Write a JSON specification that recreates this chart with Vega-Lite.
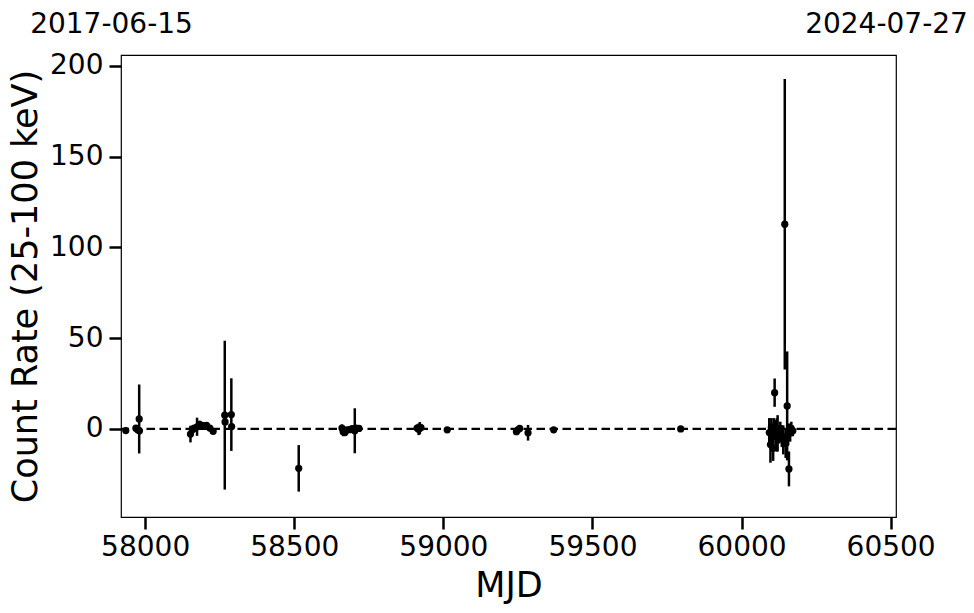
{
  "$schema": "https://vega.github.io/schema/vega-lite/v6.json",
  "width": 775,
  "height": 462,
  "autosize": {"type": "none"},
  "padding": {"left": 121, "top": 55, "right": 78, "bottom": 96},
  "background": "white",
  "config": {
    "font": "DejaVu Sans",
    "view": {"stroke": "black", "strokeWidth": 1.2},
    "axis": {"labelColor": "black", "titleColor": "black", "tickColor": "black", "grid": false, "domain": false, "labelFont": "DejaVu Sans", "titleFont": "DejaVu Sans"}
  },
  "data": {
    "values": [
      {"mjd": 57935, "rate": -0.9, "err": 0.8},
      {"mjd": 57969, "rate": 0.4, "err": 1.2},
      {"mjd": 57975, "rate": -0.5, "err": 1.5},
      {"mjd": 57980, "rate": 5.5, "err": 19},
      {"mjd": 57981, "rate": -1.0, "err": 2},
      {"mjd": 58152, "rate": -2.8, "err": 4.6},
      {"mjd": 58158, "rate": -0.5, "err": 2},
      {"mjd": 58163, "rate": 0.3, "err": 2},
      {"mjd": 58174, "rate": 1.2, "err": 5},
      {"mjd": 58183, "rate": 2.5, "err": 2},
      {"mjd": 58195, "rate": 1.8, "err": 1.5},
      {"mjd": 58206, "rate": 2.0, "err": 1.5},
      {"mjd": 58217, "rate": 0.5, "err": 1.5},
      {"mjd": 58228, "rate": -1.3, "err": 1.5},
      {"mjd": 58267, "rate": 7.6, "err": 41},
      {"mjd": 58268, "rate": 3.9, "err": 2},
      {"mjd": 58289, "rate": 7.9, "err": 20},
      {"mjd": 58290, "rate": 1.3, "err": 1.5},
      {"mjd": 58515, "rate": -21.7, "err": 12.8},
      {"mjd": 58660, "rate": 0.5, "err": 2},
      {"mjd": 58664, "rate": -1.5, "err": 2.5},
      {"mjd": 58670, "rate": -2.0, "err": 1.5},
      {"mjd": 58677, "rate": -0.5, "err": 1.5},
      {"mjd": 58686, "rate": -0.4, "err": 1.5},
      {"mjd": 58694, "rate": 0.2, "err": 1.5},
      {"mjd": 58703, "rate": -1.0, "err": 12.4},
      {"mjd": 58707, "rate": 0.5, "err": 1.5},
      {"mjd": 58717, "rate": 0.3, "err": 1.5},
      {"mjd": 58912, "rate": 0.5, "err": 2},
      {"mjd": 58917, "rate": -0.2, "err": 3.2},
      {"mjd": 58921, "rate": 0.4, "err": 3.4},
      {"mjd": 58925, "rate": 0.8, "err": 2},
      {"mjd": 59013, "rate": -0.5, "err": 1},
      {"mjd": 59245, "rate": -1.5, "err": 1.5},
      {"mjd": 59250, "rate": -0.5, "err": 1.5},
      {"mjd": 59256, "rate": 0.3, "err": 1.5},
      {"mjd": 59284, "rate": -2.1, "err": 4.3},
      {"mjd": 59370, "rate": -0.5, "err": 1},
      {"mjd": 59796, "rate": 0.0, "err": 0.8},
      {"mjd": 60093, "rate": -2, "err": 8},
      {"mjd": 60097, "rate": -8.6, "err": 10},
      {"mjd": 60100, "rate": 1, "err": 5},
      {"mjd": 60103, "rate": -3, "err": 6},
      {"mjd": 60106, "rate": -10.6, "err": 7},
      {"mjd": 60108, "rate": 0, "err": 6},
      {"mjd": 60111, "rate": 20, "err": 7.8},
      {"mjd": 60114, "rate": -2, "err": 7},
      {"mjd": 60118, "rate": -3.3, "err": 9.2},
      {"mjd": 60121, "rate": -2.4, "err": 10},
      {"mjd": 60126, "rate": -3, "err": 5},
      {"mjd": 60130, "rate": 0, "err": 4},
      {"mjd": 60135, "rate": -4, "err": 6},
      {"mjd": 60140, "rate": -6, "err": 8},
      {"mjd": 60145, "rate": 112.8, "err": 80},
      {"mjd": 60148, "rate": -8, "err": 8},
      {"mjd": 60153, "rate": 12.7, "err": 30},
      {"mjd": 60156, "rate": -3, "err": 6},
      {"mjd": 60159, "rate": -22, "err": 9.6},
      {"mjd": 60163, "rate": -2, "err": 5},
      {"mjd": 60167, "rate": 0, "err": 4},
      {"mjd": 60172, "rate": -1, "err": 3}
    ]
  },
  "layer": [
    {
      "data": {"values": [{"ref": 0}]},
      "mark": {"type": "rule", "color": "black", "strokeWidth": 2.2, "strokeDash": [8.5, 4.5]},
      "encoding": {"y": {"field": "ref", "type": "quantitative", "title": "Count Rate (25-100 keV)"}}
    },
    {
      "mark": {"type": "errorbar", "ticks": false, "color": "black", "rule": {"strokeWidth": 2.5, "color": "black"}},
      "encoding": {
        "x": {
          "field": "mjd", "type": "quantitative",
          "scale": {"domain": [57919, 60518], "nice": false, "zero": false},
          "axis": {"orient": "bottom", "values": [58000, 58500, 59000, 59500, 60000, 60500], "format": "d", "tickSize": 12, "tickWidth": 2.5, "labelFontSize": 28, "labelPadding": 4, "labelFlush": false, "labelOverlap": false, "title": "MJD", "titleFontSize": 35, "titleFontWeight": "normal", "titlePadding": 7}
        },
        "y": {
          "field": "rate", "type": "quantitative",
          "scale": {"domain": [-48.5, 206], "nice": false, "zero": false},
          "title": "Count Rate (25-100 keV)",
          "axis": {"values": [0, 50, 100, 150, 200], "tickSize": 12, "tickWidth": 2.5, "labelFontSize": 28, "labelPadding": 6, "title": "Count Rate (25-100 keV)", "titleFontSize": 35, "titleFontWeight": "normal", "titlePadding": 6}
        },
        "yError": {"field": "err"}
      }
    },
    {
      "mark": {"type": "point", "filled": true, "size": 52, "color": "black", "opacity": 1},
      "encoding": {
        "x": {
          "field": "mjd", "type": "quantitative",
          "axis": {"orient": "top", "values": [57919, 60518], "labelExpr": "utcFormat((datum.value - 40587) * 86400000, '%Y-%m-%d')", "ticks": false, "tickSize": 0, "labelPadding": 17, "labelOffset": -10, "labelFontSize": 28, "labelOverlap": false, "labelFlush": false, "labelBound": false, "title": null}
        },
        "y": {"field": "rate", "type": "quantitative", "title": "Count Rate (25-100 keV)"}
      }
    }
  ],
  "resolve": {"axis": {"x": "independent"}}
}
